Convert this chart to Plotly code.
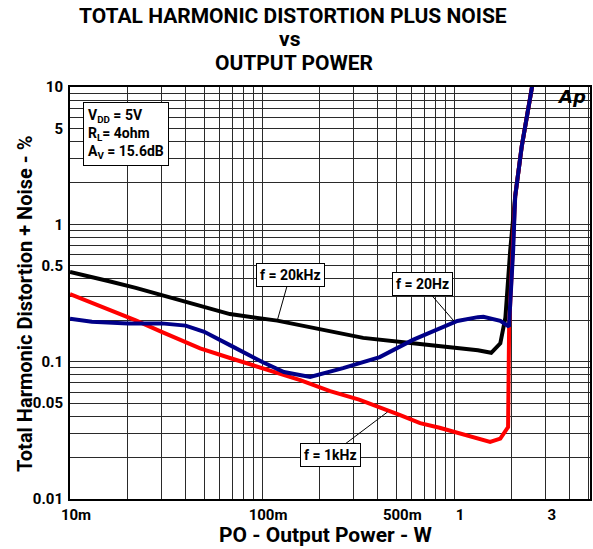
import math
import plotly.graph_objects as go

# ---------------- data ----------------
# f = 20kHz (black)
po_20k = [0.010, 0.0125, 0.016, 0.022, 0.030, 0.045, 0.068, 0.12, 0.185, 0.336,
          0.61, 1.0, 1.33, 1.56, 1.74, 1.85, 1.96, 2.08, 2.25, 2.56]
thd_20k = [0.45, 0.42, 0.385, 0.345, 0.305, 0.26, 0.222, 0.199, 0.176, 0.149,
           0.136, 0.127, 0.121, 0.116, 0.136, 0.21, 0.65, 1.6, 3.7, 10.5]

# f = 1kHz (red)
po_1k = [0.010, 0.0125, 0.016, 0.022, 0.030, 0.0476, 0.07, 0.10, 0.158, 0.226,
         0.32, 0.52, 0.665, 0.84, 1.04, 1.26, 1.54, 1.74, 1.91, 1.934, 2.03,
         2.08, 2.25, 2.56]
thd_1k = [0.31, 0.275, 0.24, 0.20, 0.165, 0.125, 0.105, 0.09, 0.0735, 0.061,
          0.053, 0.041, 0.0357, 0.033, 0.0302, 0.0282, 0.026, 0.0275, 0.0334,
          0.18, 0.65, 1.6, 3.7, 10.5]

# f = 20Hz (blue)
po_20 = [0.010, 0.013, 0.020, 0.030, 0.040, 0.050, 0.068, 0.101, 0.13, 0.178,
         0.264, 0.41, 0.61, 1.04, 1.33, 1.42, 1.74, 1.93, 2.03, 2.08, 2.25, 2.56]
thd_20 = [0.205, 0.195, 0.19, 0.19, 0.183, 0.165, 0.132, 0.099, 0.084, 0.0775,
          0.0898, 0.108, 0.144, 0.198, 0.211, 0.212, 0.198, 0.18, 0.65, 1.6,
          3.7, 10.5]

x_tickvals = [0.01, 0.1, 0.5, 1.0, 3.0]
x_ticktext = ["10m", "100m", "500m", "1", "3"]
y_tickvals = [0.01, 0.05, 0.1, 0.5, 1.0, 5.0, 10.0]
y_ticktext = ["0.01", "0.05", "0.1", "0.5", "1", "5", "10"]

# ---------------- figure ----------------
FONT = "Roboto"
grid_x = [round(k * 10 ** e, 6) for e in (-2, -1) for k in range(1, 10)] + [1.0, 2.0, 3.0, 4.0, 5.0]
grid_y = [round(k * 10 ** e, 6) for e in (-2, -1, 0) for k in range(1, 10)] + [10.0]
GRID = dict(showgrid=True, gridcolor="#2a2a2a", gridwidth=1.3)

fig = go.Figure()
fig.add_trace(go.Scatter(x=po_20k, y=thd_20k, mode="lines",
                         line=dict(color="#000000", width=4), name="f = 20kHz"))
fig.add_trace(go.Scatter(x=po_1k, y=thd_1k, mode="lines",
                         line=dict(color="#ff0000", width=4), name="f = 1kHz"))
fig.add_trace(go.Scatter(x=po_20, y=thd_20, mode="lines",
                         line=dict(color="#000088", width=4), name="f = 20Hz"))

fig.update_xaxes(type="log", range=[-2, math.log10(5.1)],
                 tickmode="array", tickvals=x_tickvals, ticktext=x_ticktext,
                 minor=dict(tickmode="array", tickvals=grid_x, ticks="", **GRID),
                 showline=True, linecolor="black", linewidth=2, mirror=True,
                 ticks="", zeroline=False, automargin=False, tickangle=0,
                 ticklabelshift=6, ticklabelstandoff=1, **GRID,
                 tickfont=dict(family=FONT, size=15, color="black", weight="bold"))
fig.update_yaxes(type="log", range=[-2, 1],
                 tickmode="array", tickvals=y_tickvals, ticktext=y_ticktext,
                 minor=dict(tickmode="array", tickvals=grid_y, ticks="", **GRID),
                 showline=True, linecolor="black", linewidth=2, mirror=True,
                 ticks="", zeroline=False, automargin=False,
                 ticklabelstandoff=2, **GRID,
                 tickfont=dict(family=FONT, size=15, color="black", weight="bold"))

bold = dict(family=FONT, color="black", weight="bold")
annotations = [
    # title lines
    dict(text="TOTAL HARMONIC DISTORTION PLUS NOISE", x=0.428, y=1.172,
         font=dict(size=21, **bold)),
    dict(text="vs", x=0.424, y=1.117, font=dict(size=21, **bold)),
    dict(text="OUTPUT POWER", x=0.431, y=1.058, font=dict(size=21, **bold)),
    # axis titles
    dict(text="PO - Output Power - W", x=0.491, y=-0.088, font=dict(size=21, **bold)),
    dict(text="Total Harmonic Distortion + Noise - %", x=-0.087, y=0.473,
         textangle=-90, font=dict(size=20, **bold)),
    # conditions box
    dict(text="V<sub>DD</sub> = 5V<br>R<sub>L</sub>= 4ohm<br>A<sub>V</sub> = 15.6dB",
         x=0.025, y=0.964, xanchor="left", yanchor="top", align="left",
         bgcolor="white", bordercolor="black", borderwidth=1, borderpad=4,
         font=dict(size=14, **bold)),
    # Ap logo
    dict(text="<i>Ap</i>", x=0.996, y=0.976, xanchor="right",
         font=dict(family="DejaVu Sans", size=18, color="black", weight="bold")),
]
for a in annotations:
    a.setdefault("xref", "paper")
    a.setdefault("yref", "paper")
    a.setdefault("xanchor", "center")
    a.setdefault("yanchor", "middle")
    a.setdefault("showarrow", False)
    fig.add_annotation(**a)

callout = dict(showarrow=True, arrowhead=0, arrowwidth=1, arrowcolor="black",
               bgcolor="white", bordercolor="black", borderwidth=1, borderpad=3,
               font=dict(size=14, **bold), xref="x", yref="y")
fig.add_annotation(text="f = 20kHz", x=math.log10(0.12), y=math.log10(0.199),
                   ax=13, ay=-46, **callout)
fig.add_annotation(text="f = 20Hz", x=math.log10(1.0), y=math.log10(0.197),
                   ax=-32, ay=-37, **callout)
fig.add_annotation(text="f = 1kHz", x=math.log10(0.45), y=math.log10(0.043),
                   ax=-57, ay=43, **callout)

fig.update_layout(width=593, height=549, showlegend=False,
                  margin=dict(l=70, r=3, t=87, b=50),
                  paper_bgcolor="white", plot_bgcolor="white")

fig.write_html("out.html", config={"displayModeBar": False},
               post_script="document.body.style.margin='0px';"
                           "document.body.style.overflow='hidden';")
